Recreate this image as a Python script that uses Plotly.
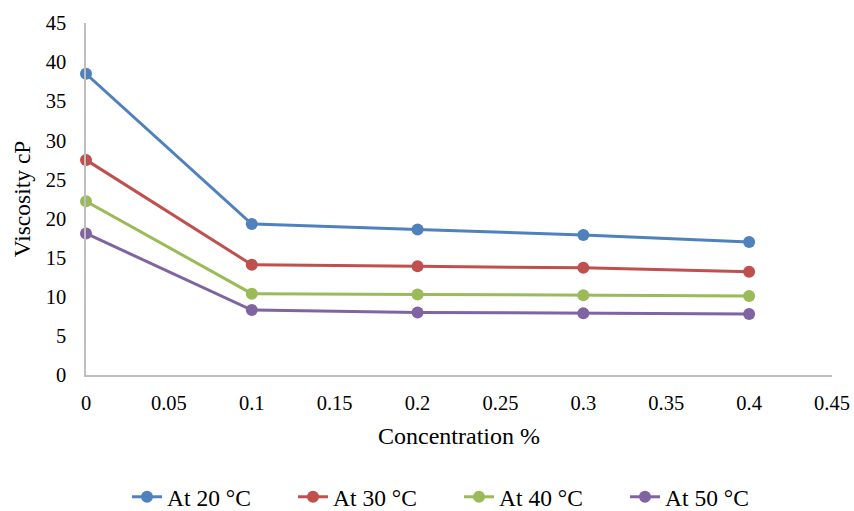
import plotly.graph_objects as go

concentration = [0, 0.1, 0.2, 0.3, 0.4]
visc_20 = [38.5, 19.3, 18.6, 17.9, 17.0]
visc_30 = [27.5, 14.1, 13.9, 13.7, 13.2]
visc_40 = [22.2, 10.4, 10.3, 10.2, 10.1]
visc_50 = [18.1, 8.3, 8.0, 7.9, 7.8]
series_names = ["At 20 °C", "At 30 °C", "At 40 °C", "At 50 °C"]
colors = ["#4F81BD", "#C0504D", "#9BBB59", "#8064A2"]

fig = go.Figure()
for name, vals, c in zip(series_names, [visc_20, visc_30, visc_40, visc_50], colors):
    fig.add_trace(go.Scatter(
        x=concentration, y=vals, name=name, mode="lines+markers",
        line=dict(color=c, width=3),
        marker=dict(color=c, size=12),
        cliponaxis=False,
    ))

font_family = "Liberation Serif"
fig.update_layout(
    width=854, height=511,
    margin=dict(l=86, r=22, t=23, b=136),
    paper_bgcolor="white", plot_bgcolor="white",
    font=dict(family=font_family, size=20, color="black"),
    showlegend=True,
    legend=dict(orientation="h", x=0.5, xanchor="center",
                yref="container", y=(511 - 497) / 511, yanchor="middle",
                font=dict(family=font_family, size=23.5), itemwidth=30, tracegroupgap=0,
                entrywidth=121, entrywidthmode="pixels"),
    xaxis=dict(
        range=[0, 0.45], dtick=0.05, tick0=0, showgrid=False, zeroline=False,
        showline=True, linecolor="#BFBFBF", linewidth=1.5, ticks="",
        tickfont=dict(family=font_family, size=20.5), ticklabelstandoff=9, automargin=False,
        title=dict(text="Concentration %", font=dict(family=font_family, size=24), standoff=14),
    ),
    yaxis=dict(
        range=[0, 45], dtick=5, showgrid=False, zeroline=False,
        showline=True, linecolor="#BFBFBF", linewidth=1.5, ticks="",
        tickfont=dict(family=font_family, size=20.5), ticklabelstandoff=14, automargin=False,
        title=dict(text="Viscosity cP", font=dict(family=font_family, size=23.5), standoff=8),
    ),
)

fig.write_html("out.html")
